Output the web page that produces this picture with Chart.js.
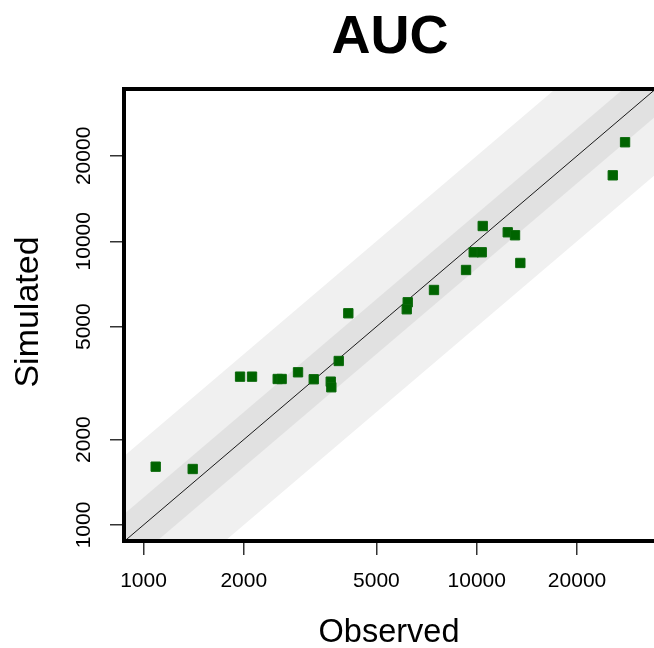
<!DOCTYPE html>
<html>
<head>
<meta charset="utf-8">
<title>AUC</title>
<script src="https://cdn.jsdelivr.net/npm/chart.js@4.4.1/dist/chart.umd.min.js"></script>
<style>
  html, body { margin: 0; padding: 0; background: #fff; overflow: hidden; }
  #chart { display: block; }
</style>
</head>
<body>
<canvas id="chart" width="654" height="648"></canvas>
<script>
// observed vs simulated AUC, one entry per study arm
const observed = [1088, 1405, 1949, 2117, 2528, 2598, 2909, 3243, 3647, 3662, 3854, 4118,
  6208, 6166, 7443, 9289, 9795, 10352, 10424, 12390, 13030, 13517, 25600, 27870];
const simulated = [1605, 1575, 3333, 3333, 3270, 3270, 3453, 3263, 3200, 3058, 3785, 5575,
  6095, 5759, 6735, 7922, 9146, 9146, 11320, 10757, 10500, 8386, 17080, 22340];
const tickValues = [1000, 2000, 5000, 10000, 20000];
const foldBands = [1.25, 2];          // inner and outer acceptance bands
const lineRange = [500, 60000];       // drawn past the axes, clipped to the plot
const xRange = [868, 34040];
const yRange = [878, 34420];

const FONT = 'Liberation Sans, Arial, Helvetica, sans-serif';
Chart.defaults.font.family = FONT;

const points = observed.map((x, i) => ({ x, y: simulated[i] }));
const bandLine = f => lineRange.map(x => ({ x, y: x * f }));

function band(f, color, ord) {
  return [
    { data: bandLine(f), showLine: true, pointRadius: 0, borderWidth: 0,
      backgroundColor: color, fill: '+1', order: ord },
    { data: bandLine(1 / f), showLine: true, pointRadius: 0, borderWidth: 0,
      fill: false, order: ord + 1 }
  ];
}

// box on three sides plus title and axis names
const framePlugin = {
  id: 'frame',
  afterDraw(chart) {
    const { ctx, chartArea: a } = chart;
    ctx.save();
    ctx.strokeStyle = '#000';
    ctx.lineWidth = 4;
    ctx.beginPath();
    ctx.moveTo(a.right + 4, a.top);
    ctx.lineTo(a.left + 1, a.top);
    ctx.lineTo(a.left + 1, a.bottom);
    ctx.lineTo(a.right + 4, a.bottom);
    ctx.stroke();

    ctx.fillStyle = '#000';
    ctx.textAlign = 'center';
    ctx.textBaseline = 'middle';
    ctx.font = 'bold 54px ' + FONT;
    ctx.fillText('AUC', 390, 38);
    ctx.font = '32.5px ' + FONT;
    ctx.fillText('Observed', 389, 633);
    ctx.translate(29, 312);
    ctx.rotate(-Math.PI / 2);
    ctx.font = '34px ' + FONT;
    ctx.fillText('Simulated', 0, 0);
    ctx.restore();
  }
};

// no extra room for overhanging tick labels, the plot runs to the canvas edge
function noOverhang(s) {
  s.paddingLeft = 0;
  s.paddingRight = 0;
  s.paddingTop = 0;
  s.paddingBottom = 0;
}

function axis(range, tickLength, extra) {
  return Object.assign({
    type: 'logarithmic',
    min: range[0],
    max: range[1],
    afterBuildTicks: s => { s.ticks = tickValues.map(v => ({ value: v })); },
    border: { display: false },
    grid: { drawOnChartArea: false, drawTicks: true, tickLength, color: '#333', lineWidth: 1.5 },
  }, extra);
}

new Chart(document.getElementById('chart'), {
  type: 'scatter',
  data: {
    datasets: [
      { data: points, pointStyle: 'rect', pointRadius: 6.6, borderWidth: 1,
        backgroundColor: '#006400', borderColor: '#0a690a', order: 0 },
      { data: bandLine(1), showLine: true, pointRadius: 0, borderWidth: 1,
        borderColor: '#1a1a1a', order: 1 },
      ...band(foldBands[0], '#e1e1e1', 2),
      ...band(foldBands[1], '#f0f0f0', 4)
    ]
  },
  options: {
    responsive: false,
    animation: false,
    layout: { autoPadding: false, padding: { top: 89, left: 0, right: 0, bottom: 0 } },
    plugins: { legend: { display: false }, tooltip: { enabled: false } },
    scales: {
      x: axis(xRange, 14, {
        afterFit: s => { s.height = 107; noOverhang(s); },
        ticks: { autoSkip: false, maxRotation: 0, padding: 14, color: '#000',
          font: { size: 21 }, callback: v => String(v) }
      }),
      y: axis(yRange, 13, {
        afterFit: s => { s.width = 123; noOverhang(s); },
        ticks: { autoSkip: false, minRotation: 90, maxRotation: 90, crossAlign: 'center',
          padding: -3, color: '#000', font: { size: 21 }, callback: v => String(v) }
      })
    }
  },
  plugins: [framePlugin]
});
</script>
</body>
</html>
